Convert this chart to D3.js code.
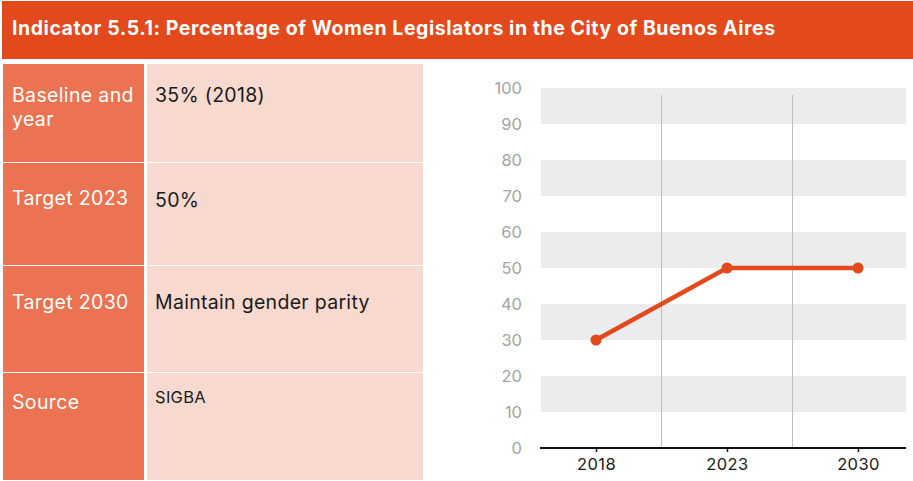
<!DOCTYPE html>
<html>
<head>
<meta charset="utf-8">
<script src="https://cdn.jsdelivr.net/npm/d3@7/dist/d3.min.js"></script>
<style>
  html, body { margin: 0; padding: 0; background: #fff; }
  svg { display: block; font-family: Inter, "Liberation Sans", Arial, sans-serif; }
</style>
</head>
<body>
<svg id="chart" width="913" height="481"></svg>
<script>
// ---- data ----
const title = "Indicator 5.5.1: Percentage of Women Legislators in the City of Buenos Aires";
const rowLabels = ["Baseline and year", "Target 2023", "Target 2030", "Source"];
const rowValues = ["35% (2018)", "50%", "Maintain gender parity", "SIGBA"];
const years = ["2018", "2023", "2030"];
const values = [30, 50, 50];
const yTicks = [0, 10, 20, 30, 40, 50, 60, 70, 80, 90, 100];

// ---- layout ----
const W = 913, H = 481;
const svg = d3.select("#chart");
const orange = "#E2491C";
const FONT = "Inter, 'Liberation Sans', Arial, sans-serif";

// header
svg.append("rect").attr("x", 2).attr("y", 1).attr("width", W - 2).attr("height", 58).attr("fill", orange);
svg.append("text").attr("x", 12).attr("y", 35)
  .attr("fill", "#fff").attr("font-size", 19.5).attr("font-weight", 700)
  .attr("letter-spacing", 0.55)
  .text(title);

// table
const rowBounds = [64, 163, 266, 373, 481];
const labelBase = [102, 205, 309, 409];
const valueBase = [102, 207, 309, 403];
const rowY = d3.scaleOrdinal().domain(d3.range(rowLabels.length)).range(rowBounds.slice(0, -1));
const rowH = i => rowBounds[i + 1] - rowBounds[i] - 1;

const tbl = svg.append("g");
tbl.selectAll("rect.l").data(rowLabels).join("rect").attr("class", "l")
  .attr("x", 3).attr("y", (d, i) => rowY(i)).attr("width", 141).attr("height", (d, i) => rowH(i)).attr("fill", "#EB7352");
tbl.selectAll("rect.v").data(rowValues).join("rect").attr("class", "v")
  .attr("x", 147).attr("y", (d, i) => rowY(i)).attr("width", 276).attr("height", (d, i) => rowH(i)).attr("fill", "#F8D9D0");

tbl.selectAll("text.l").data(rowLabels).join("text").attr("class", "l")
  .attr("y", (d, i) => labelBase[i]).attr("fill", "#fff").attr("font-size", 19.5).attr("letter-spacing", 0.35)
  .each(function (d) {
    const t = d3.select(this);
    const words = d.split(" ");
    let line = [];
    let tspan = t.append("tspan").attr("x", 12).attr("dy", 0);
    words.forEach(w => {
      line.push(w);
      tspan.text(line.join(" "));
      if (tspan.node().getComputedTextLength() > 130 && line.length > 1) {
        line.pop();
        tspan.text(line.join(" "));
        line = [w];
        tspan = t.append("tspan").attr("x", 12).attr("dy", 24).text(w);
      }
    });
  });

tbl.selectAll("text.v").data(rowValues).join("text").attr("class", "v")
  .attr("x", 155)
  .attr("y", (d, i) => valueBase[i])
  .attr("fill", "#1a1a1a")
  .attr("font-size", (d, i) => i === 3 ? 16.5 : 19.5)
  .attr("letter-spacing", 0.3)
  .text(d => d);

// chart
const plotL = 541, plotR = 906, plotT = 88, plotB = 448;
const y = d3.scaleLinear().domain([0, 100]).range([plotB, plotT]);
const x = d3.scalePoint().domain(years).range([plotL + 55, plotR - 48]);

// grey bands
const bandStarts = yTicks.filter(v => v % 20 === 10);
svg.append("g").selectAll("rect").data(bandStarts).join("rect")
  .attr("x", plotL).attr("width", plotR - plotL)
  .attr("y", d => y(d + 10)).attr("height", d => y(d) - y(d + 10))
  .attr("fill", "#EBECEE");

// vertical separators between categories
const mids = d3.pairs(years).map(([a, b]) => (x(a) + x(b)) / 2);
svg.append("g").selectAll("line").data(mids).join("line")
  .attr("x1", d => d).attr("x2", d => d)
  .attr("y1", 95).attr("y2", plotB)
  .attr("stroke", "#BDBDBD").attr("stroke-width", 1);

// y axis labels
const yAxis = d3.axisLeft(y).tickValues(yTicks).tickSize(0).tickPadding(0);
const gy = svg.append("g").attr("transform", "translate(522,0)").call(yAxis);
gy.select(".domain").remove();
gy.selectAll("text").attr("fill", "#A3A3A3").attr("font-size", 16.5).attr("font-family", FONT);

// x axis
const xAxis = d3.axisBottom(x).tickSize(4).tickPadding(6).tickSizeOuter(0);
const gx = svg.append("g").attr("transform", `translate(0,${plotB})`).call(xAxis);
gx.select(".domain").attr("stroke", "#111").attr("stroke-width", 2.2).attr("d", `M${plotL - 1},0H${plotR}`);
gx.selectAll(".tick line").attr("stroke", "#111").attr("stroke-width", 1.5);
gx.selectAll("text").attr("fill", "#1a1a1a").attr("font-size", 16.5).attr("letter-spacing", 0.4).attr("font-family", FONT);

// line + markers
const pts = years.map((yr, i) => ({ yr, v: values[i] }));
svg.append("path").datum(pts)
  .attr("fill", "none").attr("stroke", orange).attr("stroke-width", 4.5)
  .attr("d", d3.line().x(d => x(d.yr)).y(d => y(d.v)));
svg.append("g").selectAll("circle").data(pts).join("circle")
  .attr("cx", d => x(d.yr)).attr("cy", d => y(d.v)).attr("r", 5.5).attr("fill", orange);
</script>
</body>
</html>
